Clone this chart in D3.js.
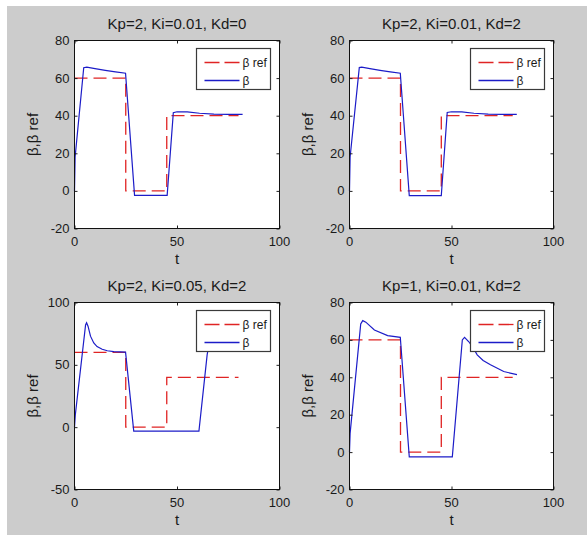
<!DOCTYPE html>
<html>
<head>
<meta charset="utf-8">
<script src="https://cdn.jsdelivr.net/npm/d3@7"></script>
<style>
  body { margin: 0; background: #fff; }
  svg { display: block; font-family: "Liberation Sans", Arial, sans-serif; }
  .tick-label { font-size: 13px; fill: #1a1a1a; }
  .title, .label { font-size: 15px; fill: #1a1a1a; }
  .legend-text { font-size: 12px; fill: #1a1a1a; }
</style>
</head>
<body>
<svg id="chart"></svg>
<script>
const W = 587, H = 535;

// reference step signal (same in every panel)
const refT = [0, 25, 25, 45, 45, 80];
const refV = [60, 60, 0, 0, 40, 40];

// Kp=2, Ki=0.01, Kd=0
const t1 = [0, 0.3, 4.5, 6, 10, 15, 20, 24.9, 29.3, 45.2, 48.2, 50, 55, 61, 68, 75, 82];
const b1 = [0, 18, 65.5, 65.8, 65.0, 64.1, 63.3, 62.6, -2.4, -2.4, 41.6, 42.1, 42.0, 41.3, 40.8, 40.7, 40.7];

// Kp=2, Ki=0.01, Kd=2
const t2 = [0, 0.3, 4.8, 6, 10, 15, 20, 24.9, 29.3, 45, 47.9, 50, 55, 61, 68, 75, 82];
const b2 = [0, 18, 65.6, 65.8, 65.0, 64.1, 63.3, 62.6, -2.5, -2.5, 41.7, 42.1, 42.0, 41.3, 40.8, 40.7, 40.7];

// Kp=2, Ki=0.05, Kd=2
const t3 = [0, 0.4, 5.4, 5.9, 6.6, 7.8, 9.4, 11, 13.5, 16, 19.2, 24.9, 28.9, 60.7, 64.7, 67];
const b3 = [0, 10, 82, 83.8, 81, 73, 67.5, 64.6, 62.5, 61.3, 60.6, 60.2, -3.2, -3.2, 58, 80];

// Kp=1, Ki=0.01, Kd=2
const t4 = [0, 0.3, 5.5, 6.5, 8, 12.2, 18.7, 24.9, 29.3, 50.4, 55.3, 56.4, 58.5, 60.5, 62.6, 65.5, 69.1, 75.6, 82.1];
const b4 = [0, 10, 68.5, 70.3, 69.5, 65.3, 62.3, 61.4, -2.5, -2.5, 60, 61.4, 59, 56, 52, 49, 46.7, 43.1, 41.4];

const titles = ["Kp=2, Ki=0.01, Kd=0", "Kp=2, Ki=0.01, Kd=2", "Kp=2, Ki=0.05, Kd=2", "Kp=1, Ki=0.01, Kd=2"];
const xTicks = [0, 50, 100];
const yTicksA = [-20, 0, 20, 40, 60, 80];
const yTicksB = [-50, 0, 50, 100];
const legendLabels = ["\u03b2 ref", "\u03b2"];

const svg = d3.select("#chart").attr("width", W).attr("height", H);

svg.append("rect")
  .attr("x", 7).attr("y", 6)
  .attr("width", W - 7).attr("height", H - 6)
  .attr("fill", "#cccccc");

const zip = (ts, vs) => ts.map((t, i) => ({ t: t, v: vs[i] }));

function drawPanel(box, title, yTicks, tArr, bArr) {
  const g = svg.append("g")
    .attr("transform", "translate(" + box.left + "," + box.top + ")");

  const x = d3.scaleLinear().domain([0, 100]).range([0, box.w]);
  const y = d3.scaleLinear().domain(d3.extent(yTicks)).range([box.h, 0]);

  g.append("rect")
    .attr("width", box.w).attr("height", box.h)
    .attr("fill", "#fff");

  const line = d3.line().x((d) => x(d.t)).y((d) => y(d.v));

  g.append("path")
    .datum(zip(refT, refV))
    .attr("d", line)
    .attr("fill", "none")
    .attr("stroke", "#e02424")
    .attr("stroke-width", 1.3)
    .attr("stroke-dasharray", "13,6");

  g.append("path")
    .datum(zip(tArr, bArr))
    .attr("d", line)
    .attr("fill", "none")
    .attr("stroke", "#1c1cc8")
    .attr("stroke-width", 1.2);

  // axes box with inward ticks on all sides
  const tl = 3;
  g.append("g")
    .call(d3.axisBottom(x).tickValues(xTicks).tickSize(-tl).tickFormat(""))
    .attr("transform", "translate(0," + box.h + ")")
    .call((a) => a.select(".domain").remove());
  g.append("g")
    .call(d3.axisTop(x).tickValues(xTicks).tickSize(-tl).tickFormat(""))
    .call((a) => a.select(".domain").remove());
  g.append("g")
    .call(d3.axisLeft(y).tickValues(yTicks).tickSize(-tl).tickFormat(""))
    .call((a) => a.select(".domain").remove());
  g.append("g")
    .attr("transform", "translate(" + box.w + ",0)")
    .call(d3.axisRight(y).tickValues(yTicks).tickSize(-tl).tickFormat(""))
    .call((a) => a.select(".domain").remove());
  g.selectAll(".tick line").attr("stroke", "#222");

  g.append("rect")
    .attr("width", box.w).attr("height", box.h)
    .attr("fill", "none")
    .attr("stroke", "#111")
    .attr("stroke-width", 1);

  g.selectAll(".ylab")
    .data(yTicks)
    .enter()
    .append("text")
    .attr("class", "tick-label")
    .attr("x", -5)
    .attr("y", (d) => y(d) + 4.5)
    .attr("text-anchor", "end")
    .text((d) => d);

  g.selectAll(".xlab")
    .data(xTicks)
    .enter()
    .append("text")
    .attr("class", "tick-label")
    .attr("x", (d) => x(d))
    .attr("y", box.h + 17)
    .attr("text-anchor", "middle")
    .text((d) => d);

  g.append("text")
    .attr("class", "title")
    .attr("x", box.w / 2)
    .attr("y", -12)
    .attr("text-anchor", "middle")
    .text(title);

  g.append("text")
    .attr("class", "label")
    .attr("x", box.w / 2)
    .attr("y", box.h + 35)
    .attr("text-anchor", "middle")
    .text("t");

  g.append("text")
    .attr("class", "label")
    .attr("transform", "rotate(-90)")
    .attr("x", -box.h / 2)
    .attr("y", -37)
    .attr("text-anchor", "middle")
    .text("\u03b2,\u03b2 ref");

  // legend
  const lw = 74, lh = 41;
  const lg = g.append("g")
    .attr("transform", "translate(" + (box.w - 9 - lw) + ",8)");
  lg.append("rect")
    .attr("width", lw).attr("height", lh)
    .attr("fill", "#fff")
    .attr("stroke", "#3a3a3a")
    .attr("stroke-width", 1.2);
  const styles = [
    { stroke: "#e02424", dash: "15,5" },
    { stroke: "#1c1cc8", dash: null },
  ];
  legendLabels.forEach((lab, i) => {
    const yy = 14 + i * 18;
    lg.append("line")
      .attr("x1", 8).attr("x2", 43)
      .attr("y1", yy).attr("y2", yy)
      .attr("stroke", styles[i].stroke)
      .attr("stroke-width", 1.3)
      .attr("stroke-dasharray", styles[i].dash);
    lg.append("text")
      .attr("class", "legend-text")
      .attr("x", 46)
      .attr("y", yy + 4)
      .text(lab);
  });
}

const boxes = [
  { left: 74.5, top: 40.5, w: 205, h: 188 },
  { left: 349.5, top: 40.5, w: 204, h: 188 },
  { left: 74.5, top: 302.5, w: 205, h: 187 },
  { left: 349.5, top: 302.5, w: 204, h: 187 },
];

drawPanel(boxes[0], titles[0], yTicksA, t1, b1);
drawPanel(boxes[1], titles[1], yTicksA, t2, b2);
drawPanel(boxes[2], titles[2], yTicksB, t3, b3);
drawPanel(boxes[3], titles[3], yTicksA, t4, b4);
</script>
</body>
</html>
